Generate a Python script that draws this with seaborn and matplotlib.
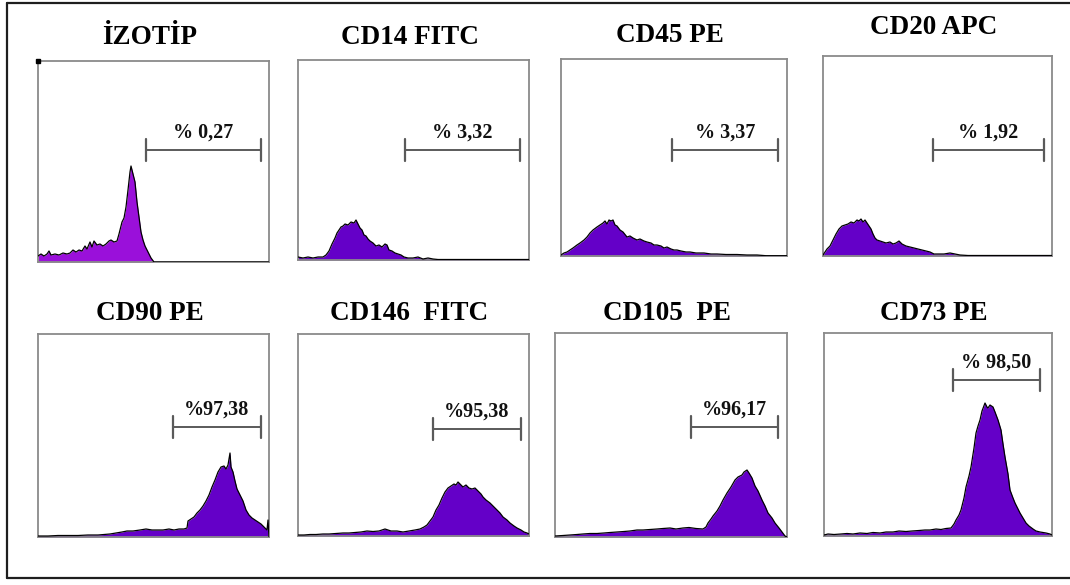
import numpy as np
import pandas as pd
import matplotlib
matplotlib.use("Agg")
import matplotlib.pyplot as plt
import seaborn as sns
from matplotlib.lines import Line2D

# ---------------- data ----------------
titles = ["İZOTİP", "CD14 FITC", "CD45 PE", "CD20 APC",
          "CD90 PE", "CD146  FITC", "CD105  PE", "CD73 PE"]
gate_labels = ["% 0,27", "% 3,32", "% 3,37", "% 1,92",
               "%97,38", "%95,38", "%96,17", "% 98,50"]

# histogram channel positions / event counts
izotip_x = [0, 3, 6, 9, 11, 13, 17, 21, 25, 29, 32, 35, 38, 41, 44, 47, 49, 52, 54, 56, 59, 62, 65, 68,
            71, 73, 76, 79, 81, 84, 86, 88, 90, 92, 93, 95, 97, 99, 101, 103, 105, 107, 110, 113, 116, 231]
izotip_y = [6, 8, 6, 8, 11, 7, 8, 7, 9, 8, 9, 12, 10, 12, 11, 16, 13, 20, 15, 21, 17, 18, 16, 18,
            21, 22, 20, 21, 28, 40, 44, 55, 72, 90, 96, 88, 80, 60, 45, 30, 22, 16, 10, 4, 0, 0]

cd14_x = [0, 5, 10, 15, 20, 25, 28, 31, 34, 37, 39, 41, 43, 45, 47, 50, 53, 56, 58, 60, 62, 64, 66, 68,
          70, 72, 75, 78, 81, 84, 87, 89, 91, 94, 97, 100, 103, 106, 110, 115, 120, 125, 130, 135, 140, 231]
cd14_y = [3, 2, 3, 2, 3, 3, 5, 9, 16, 22, 27, 30, 33, 34, 36, 35, 38, 37, 40, 36, 32, 30, 25, 24,
          21, 19, 17, 14, 15, 13, 16, 15, 10, 9, 7, 6, 5, 3, 2, 2, 3, 1, 2, 1, 0.5, 0.5]

cd45_x = [0, 3, 6, 9, 12, 16, 19, 23, 26, 29, 32, 36, 39, 42, 44, 46, 48, 50, 52, 54, 56, 59, 62, 66,
          69, 72, 76, 79, 83, 86, 90, 93, 96, 100, 103, 106, 110, 113, 116, 120, 125, 129, 135, 143,
          150, 156, 165, 176, 186, 196, 205, 226]
cd45_y = [1, 3, 4, 6, 8, 11, 13, 16, 19, 23, 26, 29, 31, 33, 35, 32, 36, 35, 36, 31, 30, 26, 24, 19,
          20, 18, 16, 17, 15, 14, 13, 11, 11, 10, 8, 9, 7, 6, 6, 5, 4, 4, 3, 3,
          2, 2, 1.5, 1.5, 1, 1, 0.3, 0.3]

cd20_x = [0, 4, 7, 10, 13, 16, 19, 22, 25, 28, 31, 34, 36, 38, 40, 42, 44, 46, 48, 50, 52, 54, 57, 60,
          63, 67, 70, 73, 76, 79, 83, 87, 91, 95, 99, 103, 107, 111, 116, 121, 127, 132, 137, 145, 229]
cd20_y = [1, 7, 10, 16, 22, 27, 30, 31, 32, 34, 33, 36, 35, 37, 34, 36, 33, 30, 27, 22, 18, 16, 15, 14,
          13, 14, 12, 13, 15, 12, 10, 9, 8, 7, 6, 5, 4, 2, 2, 2, 3, 2, 1, 0.5, 0.5]

cd90_x = [0, 10, 20, 30, 40, 50, 60, 66, 72, 78, 84, 89, 95, 102, 108, 114, 119, 125, 131, 136, 141,
          146, 149, 150, 153, 156, 159, 162, 165, 168, 171, 174, 177, 180, 183, 186, 188, 190, 192,
          193, 195, 197, 199, 202, 205, 208, 211, 214, 217, 220, 223, 226, 229, 230, 231]
cd90_y = [1, 1, 1.5, 1.5, 1.5, 2, 2, 2.5, 3, 4, 5, 6, 6, 7, 8, 7, 7, 7, 8, 7, 8,
          8, 9, 16, 18, 20, 24, 27, 31, 36, 42, 50, 57, 65, 70, 71, 68, 72, 84,
          70, 65, 56, 48, 42, 36, 27, 22, 19, 17, 15, 13, 10, 7, 17, 0]

cd146_x = [0, 6, 12, 18, 25, 31, 38, 45, 51, 57, 63, 69, 75, 81, 87, 93, 99, 105, 111, 117, 122, 126,
           129, 132, 135, 138, 141, 144, 147, 150, 153, 156, 158, 160, 162, 165, 168, 171, 174, 177,
           180, 183, 185, 188, 192, 195, 199, 202, 205, 209, 212, 216, 219, 223, 226, 229, 231]
cd146_y = [1, 1, 1.5, 1.5, 2, 2, 2.5, 3, 3, 3.5, 4, 5, 4.5, 5, 7, 5, 5, 4, 5, 6, 7, 9,
           11, 15, 19, 26, 31, 38, 44, 48, 50, 52, 51, 54, 52, 49, 51, 48, 47, 48,
           45, 42, 39, 36, 33, 30, 26, 23, 19, 16, 13, 10, 8, 6, 4, 3, 2]

cd105_x = [0, 8, 15, 22, 28, 35, 42, 49, 55, 62, 69, 75, 82, 88, 95, 102, 108, 115, 121, 128, 134,
           141, 148, 151, 153, 156, 158, 162, 165, 168, 172, 176, 180, 183, 187, 189, 192, 194, 197,
           200, 203, 207, 210, 213, 217, 220, 224, 227, 230, 232]
cd105_y = [1, 1.5, 2, 2.5, 3, 3.5, 3.5, 4, 4.5, 5, 5.5, 6, 7, 7, 7.5, 8, 8.5, 9, 8, 9, 9.5,
           8.5, 8, 10, 14, 18, 21, 26, 31, 37, 44, 50, 57, 60, 62, 65, 67, 64, 59,
           51, 46, 37, 31, 24, 19, 14, 9, 5, 1, 0]

cd73_x = [0, 4, 10, 17, 23, 29, 36, 43, 49, 56, 62, 69, 75, 82, 88, 95, 101, 106, 112, 117, 122, 127,
          130, 132, 135, 137, 140, 142, 145, 147, 150, 152, 154, 156, 158, 161, 163, 164, 166, 169,
          171, 174, 177, 179, 181, 184, 186, 189, 191, 194, 196, 199, 202, 205, 209, 212, 216, 219,
          222, 226, 228]
cd73_y = [1, 2, 1.5, 2, 2.5, 2, 3, 2.5, 3.5, 3, 4, 4, 5, 4.5, 5, 5.5, 6, 6, 7, 6.5, 7.5, 8,
          12, 16, 21, 26, 38, 49, 60, 69, 88, 103, 110, 116, 125, 133, 129, 128, 131, 129,
          124, 116, 106, 92, 79, 62, 46, 38, 33, 27, 23, 18, 13, 10, 7, 5, 4, 3.5,
          3, 2, 1]

hist_x = [izotip_x, cd14_x, cd45_x, cd20_x, cd90_x, cd146_x, cd105_x, cd73_x]
hist_y = [izotip_y, cd14_y, cd45_y, cd20_y, cd90_y, cd146_y, cd105_y, cd73_y]

# gate markers (start, end, level)
gate_start = [108, 107, 111, 110, 135, 135, 136, 129]
gate_end = [223, 222, 217, 221, 223, 223, 223, 216]
gate_level = [112, 110, 106, 106, 110, 107, 110, 156]

# ---------------- layout (pixels: left, top, right, bottom) ----------------
W, H = 1070, 585
boxes = [(38, 61, 269, 262), (298, 60, 529, 260), (561, 59, 787, 256), (823, 56, 1052, 256),
         (38, 334, 269, 537), (298, 334, 529, 536), (555, 333, 787, 537), (824, 333, 1052, 536)]
title_y = [37, 37, 36, 27, 313, 313, 313, 313]

sns.set_style("white")
plt.rcParams['font.family'] = ['Liberation Serif', 'DejaVu Serif']

fig = plt.figure(figsize=(W / 100, H / 100), dpi=100)
fig.patch.set_facecolor("white")

fill_cols = ["#9A10DA"] + ["#6400C8"] * 7

for i in range(8):
    l, t, r, b = boxes[i]
    ax = fig.add_axes([l / W, 1 - b / H, (r - l) / W, (b - t) / H])
    xs = np.array(hist_x[i], dtype=float)
    ys = np.array(hist_y[i], dtype=float)
    df = pd.DataFrame({"ch": xs, "n": ys})
    ax.fill_between(df["ch"], 0, df["n"], color=fill_cols[i], lw=0, zorder=2)
    sns.lineplot(data=df, x="ch", y="n", ax=ax, color="black", lw=0.9,
                 estimator=None, sort=False, zorder=3)
    ax.set_xlim(0, r - l)
    ax.set_ylim(0, b - t)
    ax.set_xlabel("")
    ax.set_ylabel("")
    ax.set_xticks([])
    ax.set_yticks([])
    for s in ax.spines.values():
        s.set_visible(True)
        s.set_color("#8a8a8a")
        s.set_linewidth(1.3)
    # gate marker
    gs, ge, gl = gate_start[i], gate_end[i], gate_level[i]
    gcol = "#5a5a5a"
    ax.plot([gs, ge], [gl, gl], color=gcol, lw=1.4, zorder=4)
    ax.plot([gs, gs], [gl - 11, gl + 11], color=gcol, lw=1.6, zorder=4)
    ax.plot([ge, ge], [gl - 11, gl + 11], color=gcol, lw=1.6, zorder=4)
    ax.text((gs + ge) / 2, gl + 17, gate_labels[i], ha="center", va="center",
            fontsize=14.5, fontweight="bold", color="#111111", zorder=5)
    # title
    fig.text(((l + r) / 2 - 4) / W, 1 - title_y[i] / H, titles[i], ha="center", va="center",
             fontsize=19.5, fontweight="bold", color="black")
    if i == 0:
        ax.plot([0], [b - t], marker="s", ms=2.5, color="black", clip_on=False, zorder=6)

# outer frame (open on the right)
fc = "#1e1e1e"
fig.add_artist(Line2D([7 / W, 1.0], [1 - 3 / H, 1 - 3 / H], color=fc, lw=1.6))
fig.add_artist(Line2D([7 / W, 7 / W], [1 - 3 / H, 1 - 578 / H], color=fc, lw=1.6))
fig.add_artist(Line2D([7 / W, 1.0], [1 - 578 / H, 1 - 578 / H], color=fc, lw=1.6))

fig.savefig("out.png", dpi=100, facecolor="white")
